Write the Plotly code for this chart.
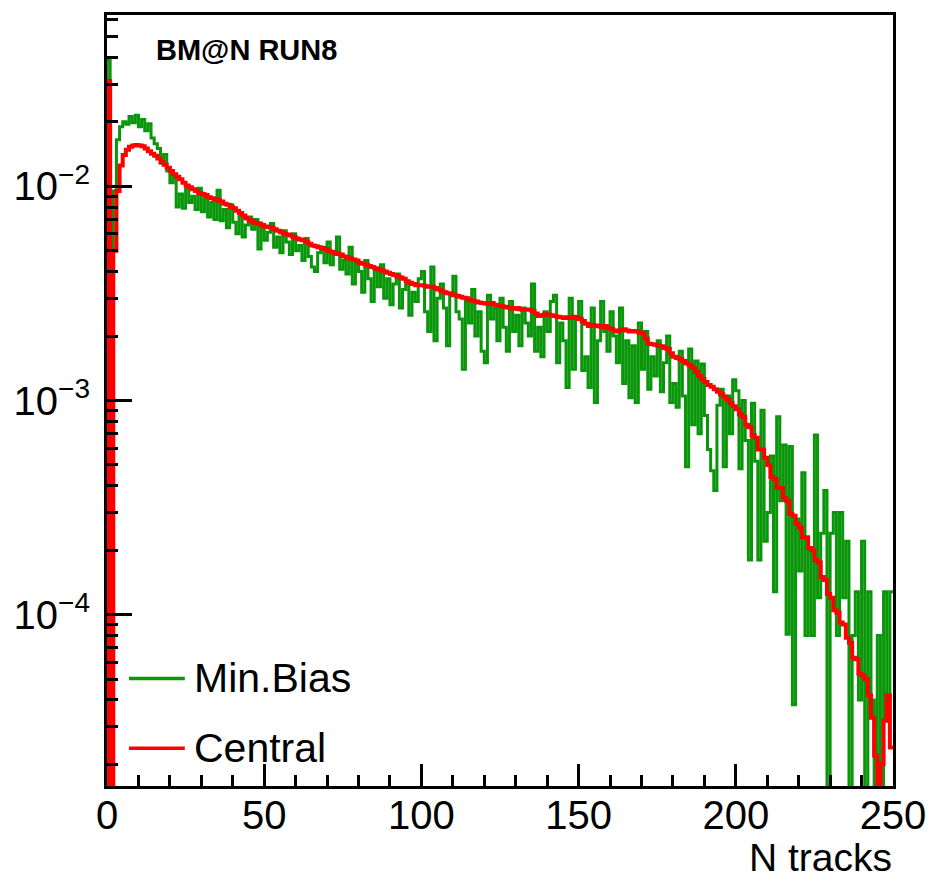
import numpy as np
import plotly.graph_objects as go

# ---------------- data (values in units of 1e-4, one per 1-track bin, 0..250) ----------------
X_MIN, X_MAX, N_BINS = 0, 250, 250
SCALE = 1e-4

central = [
    310, 0, 50, 95, 125, 140, 148, 153, 155, 156,
    155, 154, 150, 146, 142, 139, 135, 130, 126, 122,
    118, 114, 111, 108, 104, 101, 99, 97, 95, 93,
    92, 91, 89, 88, 87, 86, 85, 83, 82, 80,
    79, 77, 75, 73, 71, 69.5, 68.5, 67.5, 67, 66,
    65, 64.5, 64, 63, 62, 61, 60, 59.5, 59, 58,
    57, 56.5, 56, 55, 54, 53, 52.5, 52, 51.5, 51,
    50, 49.5, 49, 48.5, 48, 47, 46.5, 46, 45.5, 45,
    44, 43.5, 43, 42.5, 42, 41.5, 41, 40.5, 40, 39.5,
    39, 38.5, 38, 37.5, 37, 36, 35.5, 35, 34.5, 34.5,
    34.5, 34.2, 34, 34, 33.5, 33, 32.5, 32, 31.7, 31.5,
    31, 30.8, 30.5, 30.2, 30, 29.5, 29.2, 29, 28.7, 28.5,
    28.4, 28.2, 28.5, 28, 27.8, 27.6, 27.4, 27.2, 27, 26.8,
    27, 26.7, 26.5, 26.5, 26.6, 26.2, 25.5, 24.8, 25, 25.3,
    25.2, 25, 24.8, 24.6, 24.5, 24.3, 24.5, 24.3, 24.6, 24.4,
    24, 23.5, 22.8, 22.3, 22.6, 22.4, 22.2, 22, 22.3, 21.8,
    21.6, 21.2, 21, 21.3, 21.5, 21.2, 21, 21.1, 21, 20.8,
    20.6, 19.5, 18.4, 18.3, 18.2, 18, 17.9, 17.6, 17.4, 16.6,
    16, 15.8, 15.6, 15.3, 14.9, 14.6, 14.2, 13.6, 13, 12.6,
    12.2, 11.8, 11.6, 11.3, 11, 10.7, 10.4, 10.1, 9.7, 9.4,
    9.1, 8.6, 8.4, 7.7, 7.5, 6.9, 6.7, 5.9, 5.9, 5.4,
    5.0, 4.4, 4.3, 3.9, 3.9, 3.5, 3.4, 2.95, 2.9, 2.65,
    2.55, 2.3, 2.3, 2.05, 2.0, 1.8, 1.75, 1.5, 1.45, 1.25,
    1.2, 1.05, 1.02, 0.92, 0.9, 0.78, 0.74, 0.63, 0.62, 0.53,
    0.52, 0.5, 0.42, 0.33, 0.22, 0.14, 0.2, 0.32, 0.42, 0.24,
]

min_bias = [
    390, 12, 95, 165, 190, 200, 195, 212, 198, 215,
    190, 205, 182, 196, 168, 158, 150, 128, 141, 118,
    104, 112, 80, 92, 79, 101, 84, 90, 78, 98,
    76, 89, 72, 84, 70, 96, 69, 78, 64, 82,
    68, 60, 74, 58, 66, 72, 63, 70, 51, 64,
    56, 61, 67, 52, 58, 49, 62, 55, 48, 60,
    50, 53, 45, 57, 47, 42, 40, 49, 52, 44,
    55, 43, 48, 58, 41, 45, 39, 52, 35, 44,
    40, 32, 45, 37, 29, 41, 34, 43, 30, 37,
    28, 35, 39, 27, 33, 36, 25, 32, 29, 37,
    40, 26, 21, 42, 19, 30, 35, 27, 18, 31,
    38, 26, 24, 14, 29, 23, 33, 20, 26, 17,
    15, 31, 24, 27, 19, 30, 22, 17, 29, 21,
    25, 18, 27, 23, 20, 35, 17, 22, 16, 26,
    21, 29, 31, 15, 23, 19, 11.5, 30, 14, 24,
    29, 13.8, 16, 11.5, 27, 9.8, 19, 29, 21, 17,
    26, 20, 15, 27, 12, 19, 10.3, 18, 9.8, 23,
    14, 21, 11.3, 16, 13, 19, 11, 15, 20, 9.8,
    12, 9.3, 17, 10.5, 4.9, 17.4, 7.7, 15.3, 7.0, 14.8,
    8.5, 5.9, 4.7, 3.8, 9.5, 11.3, 4.9, 10.5, 7, 12.5,
    11.1, 4.8, 10, 6.5, 1.8, 9.7, 5.2, 1.8, 9, 2.2,
    3.0, 5.5, 1.28, 8.4, 3.4, 6.2, 0.81, 6.1, 0.38, 2.8,
    1.6, 4.6, 0.8, 2.0, 0.8, 6.9, 1.2, 2.4, 3.8, 0,
    2.4, 3.0, 0.8, 3.0, 1.2, 2.2, 0, 0.8, 1.28, 0.4,
    2.2, 0, 1.28, 0.4, 0, 0.8, 0, 1.28, 0.4, 1.28,
]

series_names = ["Min.Bias", "Central"]
x_tick_vals = [0, 50, 100, 150, 200, 250]
y_major_vals = [1e-4, 1e-3, 1e-2]
y_major_text = ["10<sup>\u22124</sup>", "10<sup>\u22123</sup>", "10<sup>\u22122</sup>"]
x_title = "N tracks"
label_text = "BM@N RUN8"

assert len(central) == N_BINS and len(min_bias) == N_BINS

# ---------------- styling ----------------
FONT = "Liberation Sans, Arial, sans-serif"
GREEN = "#0a960a"
RED = "#ff0000"
Y_LOG_RANGE = [-4.8, -1.2]
FLOOR = 1e-8  # empty bins drawn below the visible range (as ROOT does)


def step_xy(values):
    edges = np.linspace(X_MIN, X_MAX, N_BINS + 1)
    v = np.array(values, dtype=float) * SCALE
    v[v <= 0] = FLOOR
    xs = np.concatenate([[edges[0]], edges])
    ys = np.concatenate([[FLOOR], v, [v[-1]]])
    return xs, ys


fig = go.Figure()
for vals, name, col, w in [(min_bias, series_names[0], GREEN, 3),
                           (central, series_names[1], RED, 4)]:
    xs, ys = step_xy(vals)
    fig.add_trace(go.Scatter(x=xs, y=ys, mode="lines", name=name,
                             line=dict(color=col, width=w, shape="hv"),
                             showlegend=False, cliponaxis=True,
                             hoverinfo="skip"))

# y minor ticks (2..9 x decade)
y_minor = [m * 10.0 ** e for e in range(-5, -1) for m in range(2, 10)]

fig.update_layout(
    width=942, height=882,
    margin=dict(l=107, r=49, t=12, b=96),
    paper_bgcolor="white", plot_bgcolor="white",
    font=dict(family=FONT, size=40, color="black"),
    showlegend=False,
    xaxis=dict(range=[X_MIN, X_MAX], showgrid=False, zeroline=False,
               showline=True, mirror=True, linecolor="black", linewidth=3,
               ticks="inside", ticklen=22, tickwidth=3, tickcolor="black",
               tickmode="array", tickvals=x_tick_vals,
               tickfont=dict(size=40), ticklabelstandoff=-8,
               minor=dict(dtick=10, ticks="inside", ticklen=11, tickwidth=3,
                          tickcolor="black", showgrid=False)),
    yaxis=dict(type="log", range=Y_LOG_RANGE, showgrid=False, zeroline=False,
               showline=True, mirror=True, linecolor="black", linewidth=3,
               ticks="inside", ticklen=25, tickwidth=3, tickcolor="black",
               tickmode="array", tickvals=y_major_vals, ticktext=y_major_text,
               tickfont=dict(size=40), ticklabelstandoff=6,
               minor=dict(tickmode="array", tickvals=y_minor, ticks="inside",
                          ticklen=11, tickwidth=3, tickcolor="black",
                          showgrid=False)),
)

# x-axis title at the right end
fig.add_annotation(text=x_title, xref="paper", yref="paper", x=1.0, y=-0.093,
                   xanchor="right", yanchor="middle", showarrow=False,
                   font=dict(size=39), borderpad=0)

# experiment label
fig.add_annotation(text="<b>" + label_text + "</b>", xref="paper", yref="paper",
                   x=0.061, y=0.955, xanchor="left", yanchor="middle",
                   showarrow=False, font=dict(size=29), borderpad=0)

# legend drawn like ROOT's TLegend (line sample + label)
leg_y = [0.1395, 0.0491]
for name, col, yy in zip(series_names, [GREEN, RED], leg_y):
    fig.add_shape(type="line", xref="paper", yref="paper",
                  x0=0.028, x1=0.099, y0=yy, y1=yy,
                  line=dict(color=col, width=3.5))
    fig.add_annotation(text=name, xref="paper", yref="paper", x=0.110, y=yy,
                       xanchor="left", yanchor="middle", showarrow=False,
                       font=dict(size=41), borderpad=0)

fig.write_html("out.html",
               config={"displayModeBar": False},
               post_script="document.body.style.margin='0';"
                           "document.body.style.overflow='hidden';")
